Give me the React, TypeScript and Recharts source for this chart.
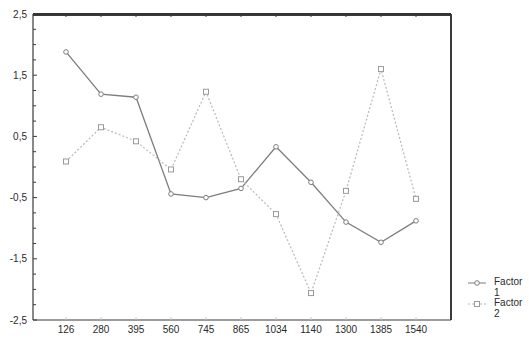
import { LineChart, Line, XAxis, YAxis, CartesianGrid } from "recharts";

const categories = ["126", "280", "395", "560", "745", "865", "1034", "1140", "1300", "1385", "1540"];
const factor1 = [1.88, 1.19, 1.14, -0.44, -0.5, -0.35, 0.33, -0.25, -0.9, -1.23, -0.88];
const factor2 = [0.09, 0.65, 0.42, -0.04, 1.23, -0.2, -0.77, -2.06, -0.39, 1.6, -0.52];
const majorTicks = [2.5, 1.5, 0.5, -0.5, -1.5, -2.5];
const allTicks = [
  2.5, 2.25, 2, 1.75, 1.5, 1.25, 1, 0.75, 0.5, 0.25, 0, -0.25, -0.5, -0.75, -1, -1.25, -1.5, -1.75, -2,
  -2.25, -2.5,
];

const data = categories.map((c, i) => ({ cat: c, f1: factor1[i], f2: factor2[i] }));

const AXIS = "#3a3a3a";
const TEXT = "#2a2a2a";
const C1 = "#7d7d7d";
const C2 = "#b8b8b8";
const FONT = "'Liberation Sans', Arial, sans-serif";

const fmt = (v: number) => String(v).replace(".", ",");

// left axis: labels on majors, short inward ticks on all
const LeftTick = (props: any) => {
  const { x, y, payload } = props;
  const major = majorTicks.includes(payload.value);
  const ax = x + 6;
  return (
    <g>
      <line x1={ax} x2={ax + (major ? 4 : 3)} y1={y} y2={y} stroke={AXIS} strokeWidth={1} />
      {major && (
        <text x={x} y={y} dy="0.35em" textAnchor="end" fill={TEXT} fontSize={10} fontFamily={FONT}>
          {fmt(payload.value)}
        </text>
      )}
    </g>
  );
};

const TopTick = (props: any) => {
  const { x, y } = props;
  return <line x1={x} x2={x} y1={y} y2={y + 3} stroke={AXIS} strokeWidth={1} />;
};

const BottomTick = (props: any) => {
  const { x, y, payload } = props;
  const ay = y - 6;
  return (
    <g>
      <line x1={x} x2={x} y1={ay} y2={ay - 3} stroke="#c8c8c8" strokeWidth={1} />
      <text x={x} y={y} dy="0.71em" textAnchor="middle" fill={TEXT} fontSize={10} fontFamily={FONT}>
        {payload.value}
      </text>
    </g>
  );
};

const Circle = (props: any) => {
  const { cx, cy } = props;
  return <circle cx={cx} cy={cy} r={2.3} fill="#fff" stroke={C1} strokeWidth={1} />;
};

const Square = (props: any) => {
  const { cx, cy } = props;
  return <rect x={cx - 2.5} y={cy - 2.5} width={5} height={5} fill="#fff" stroke="#9a9a9a" strokeWidth={1} />;
};

const LegendBox = () => {
  const items = [
    { label: "1", color: C1, dash: undefined as string | undefined, sq: false },
    { label: "2", color: C2, dash: "2 2", sq: true },
  ];
  return (
    <div
      style={{
        position: "absolute",
        left: 466,
        top: 276,
        fontFamily: FONT,
        fontSize: 10,
        color: TEXT,
      }}
    >
      {items.map((it) => (
        <div key={it.label} style={{ display: "flex", alignItems: "flex-start", height: 21 }}>
          <svg width={22} height={10} style={{ marginTop: 2 }}>
            <line x1={2} x2={20} y1={5} y2={5} stroke={it.color} strokeDasharray={it.dash} />
            {it.sq ? (
              <rect x={8.5} y={2.5} width={5} height={5} fill="#fff" stroke="#9a9a9a" />
            ) : (
              <circle cx={11} cy={5} r={2.3} fill="#fff" stroke={it.color} />
            )}
          </svg>
          <div style={{ marginLeft: 6, lineHeight: "11px" }}>
            Factor
            <br />
            {it.label}
          </div>
        </div>
      ))}
    </div>
  );
};

export default function App() {
  return (
    <div style={{ position: "relative", width: 529, height: 339, background: "#fff" }}>
      <style>{`body{margin:0}`}</style>
      <LineChart width={529} height={339} data={data} margin={{ top: 6, right: 78, left: 0, bottom: 0 }}>
        {/* top and right frame edges; left and bottom come from the axes */}
        <CartesianGrid
          xAxisId="b"
          yAxisId="l"
          stroke={AXIS}
          strokeWidth={2}
          verticalCoordinatesGenerator={({ offset }: any) => [offset.left + offset.width]}
          horizontalCoordinatesGenerator={({ offset }: any) => [offset.top + 1]}
        />
        <XAxis
          dataKey="cat"
          xAxisId="b"
          height={19}
          padding={{ left: 33, right: 35 }}
          axisLine={{ stroke: AXIS, strokeWidth: 1.2 }}
          tickLine={false}
          tickSize={0}
          tickMargin={6}
          interval={0}
          tick={<BottomTick />}
        />
        <XAxis
          dataKey="cat"
          xAxisId="t"
          orientation="top"
          height={8}
          padding={{ left: 33, right: 35 }}
          axisLine={{ stroke: "#333", strokeWidth: 2 }}
          tickLine={false}
          tickSize={0}
          tickMargin={0}
          interval={0}
          tick={<TopTick />}
        />
        <YAxis
          yAxisId="l"
          width={33}
          domain={[-2.5, 2.5]}
          ticks={allTicks}
          interval={0}
          axisLine={{ stroke: AXIS, strokeWidth: 1.2 }}
          tickLine={false}
          tickSize={0}
          tickMargin={6}
          tick={<LeftTick />}
        />
        <Line
          xAxisId="b"
          yAxisId="l"
          dataKey="f1"
          name="Factor 1"
          stroke={C1}
          strokeWidth={1.3}
          dot={<Circle />}
          isAnimationActive={false}
        />
        <Line
          xAxisId="t"
          yAxisId="l"
          dataKey="f2"
          name="Factor 2"
          stroke={C2}
          strokeWidth={1.2}
          strokeDasharray="2 2"
          dot={<Square />}
          isAnimationActive={false}
        />
      </LineChart>
      <LegendBox />
    </div>
  );
}
